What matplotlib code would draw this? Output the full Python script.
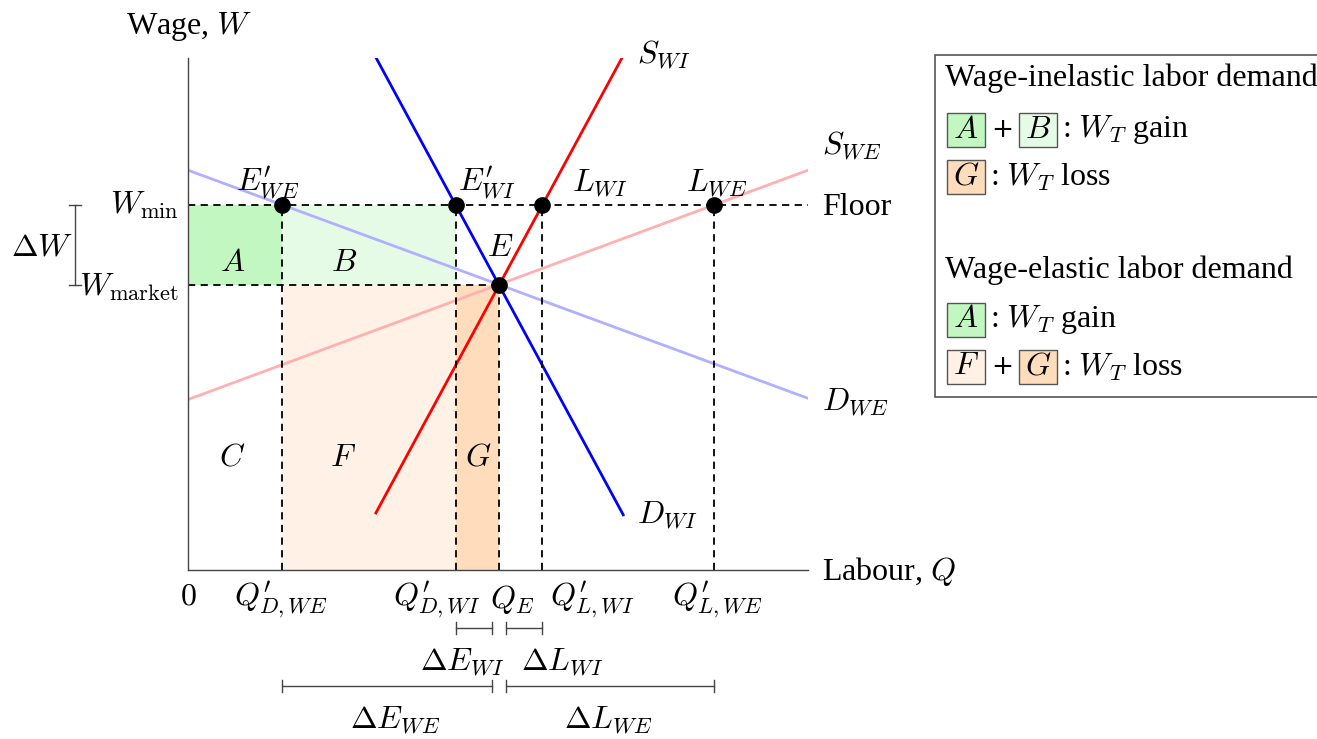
import numpy as np
import matplotlib.pyplot as plt
from matplotlib.patches import Rectangle

plt.rcParams["font.family"] = ["Liberation Serif", "DejaVu Serif"]
plt.rcParams["mathtext.fontset"] = "cm"

# axis extents (Q, W)
q_max = 10.0
w_max = 8.26

# market equilibrium and wage floor
q_e, w_market = 5.02, 4.60
w_min = 5.89

# curve endpoints [(q0, w0), (q1, w1)]
d_wi = [(3.03, 8.27), (7.02, 0.89)]
s_wi = [(3.03, 0.92), (7.02, 8.30)]
d_we = [(0.0, 6.45), (10.0, 2.77)]
s_we = [(0.0, 2.75), (10.0, 6.45)]

fill_colors = {"A": "#c2f7c2", "B": "#e6fbe6", "F": "#fff1e5", "G": "#ffdcbc"}


def q_at(line, w):
    (q0, w0), (q1, w1) = line
    return q0 + (w - w0) * (q1 - q0) / (w1 - w0)


q_d_we = q_at(d_we, w_min)
q_d_wi = q_at(d_wi, w_min)
q_l_wi = q_at(s_wi, w_min)
q_l_we = q_at(s_we, w_min)

W, H = 1317, 739
fig = plt.figure(figsize=(W / 100, H / 100), dpi=100)
ax = fig.add_axes([188 / W, 1 - 570 / H, 620 / W, 512 / H])
ax.set_xlim(0, q_max)
ax.set_ylim(0, w_max)
for s in ["top", "right"]:
    ax.spines[s].set_visible(False)
for s in ["left", "bottom"]:
    ax.spines[s].set_color("#444444")
    ax.spines[s].set_linewidth(1.0)
ax.set_xticks([])
ax.set_yticks([])

FS = 23


def px(x, y):
    # pixel position -> data coords (for labels only)
    return (x - 188) / 62, (570 - y) / 62


def label(x, y, s, ha="center", va="center", size=FS):
    xd, yd = px(x, y)
    ax.text(xd, yd, s, ha=ha, va=va, fontsize=size, clip_on=False)


# shaded welfare areas
ax.fill_between([0, q_d_we], w_market, w_min, color=fill_colors["A"], lw=0)
ax.fill_between([q_d_we, q_d_wi], w_market, w_min, color=fill_colors["B"], lw=0)
ax.fill_between([q_d_we, q_d_wi], 0, w_market, color=fill_colors["F"], lw=0)
ax.fill_between([q_d_wi, q_e], 0, w_market, color=fill_colors["G"], lw=0)

# curves
ax.plot(*zip(*s_we), color="#ffb0b0", lw=2.0)
ax.plot(*zip(*d_we), color="#b0b0ff", lw=2.0)
ax.plot(*zip(*d_wi), color="blue", lw=2.0)
ax.plot(*zip(*s_wi), color="red", lw=2.0)

# dashed guides
dash = dict(color="black", lw=1.3, ls=(0, (4, 3)))
ax.plot([0, q_max], [w_min, w_min], **dash)
ax.plot([0, q_e], [w_market, w_market], **dash)
for q in [q_d_we, q_d_wi, q_l_wi, q_l_we]:
    ax.plot([q, q], [0, w_min], **dash)
ax.plot([q_e, q_e], [0, w_market], **dash)

# points
ax.plot([q_d_we, q_d_wi, q_l_wi, q_l_we, q_e],
        [w_min, w_min, w_min, w_min, w_market],
        "o", color="black", ms=11, zorder=5)

# point labels
label(268, 183, r"$E^{\prime}_{WE}$")
label(487, 183, r"$E^{\prime}_{WI}$")
label(600, 183, r"$L_{WI}$")
label(717, 183, r"$L_{WE}$")
label(500, 248, r"$E$")

# curve labels
label(637, 55, r"$S_{WI}$", ha="left")
label(822, 146, r"$S_{WE}$", ha="left")
label(822, 402, r"$D_{WE}$", ha="left")
label(637, 515, r"$D_{WI}$", ha="left")

# area letters
for x, y, s in [(233, 263, "A"), (344, 263, "B"), (232, 458, "C"),
                (343, 458, "F"), (478, 458, "G")]:
    label(x, y, "$%s$" % s)

# axis labels
label(189, 26, "Wage, $W$")
label(822, 572, "Labour, $Q$", ha="left")
label(822, 207, "Floor", ha="left")
label(179, 205, r"$W_{\mathrm{min}}$", ha="right")
label(179, 287, r"$W_{\mathrm{market}}$", ha="right")

# Q tick labels
label(188, 597, "$0$")
label(281, 600, r"$Q^{\prime}_{D,WE}$")
label(437, 600, r"$Q^{\prime}_{D,WI}$")
label(512, 600, r"$Q_{E}$")
label(592, 600, r"$Q^{\prime}_{L,WI}$")
label(717, 600, r"$Q^{\prime}_{L,WE}$")

# brackets
gap = 7 / 62


def hbracket(q0, q1, y, t=6 / 62):
    ax.plot([q0, q1], [y, y], color="#444444", lw=1.0, clip_on=False)
    for q in (q0, q1):
        ax.plot([q, q], [y - t, y + t], color="#444444", lw=1.0, clip_on=False)


y_small = px(0, 628)[1]
y_large = px(0, 686)[1]
hbracket(q_d_wi, q_e - gap, y_small)
hbracket(q_e + gap, q_l_wi, y_small)
hbracket(q_d_we, q_e - gap, y_large)
hbracket(q_e + gap, q_l_we, y_large)
label(462, 662, r"$\Delta E_{WI}$")
label(562, 662, r"$\Delta L_{WI}$")
label(395, 720, r"$\Delta E_{WE}$")
label(608, 720, r"$\Delta L_{WE}$")

# delta W bracket
xb = px(75, 0)[0]
ax.plot([xb, xb], [w_market, w_min], color="#444444", lw=1.0, clip_on=False)
for w in (w_market, w_min):
    ax.plot([xb - 0.1, xb + 0.1], [w, w], color="#444444", lw=1.0, clip_on=False)
label(42, 248, r"$\Delta W$")

# legend box (figure pixel coords)
def fpx(x, y):
    return x / W, 1 - y / H


lx, ly = fpx(935, 397)
fig.patches.append(Rectangle((lx, ly), (W + 5 - 935) / W, (397 - 55) / H,
                             transform=fig.transFigure, fc="white",
                             ec="#555555", lw=1.2))


def ftext(x, y, s, ha="left", **kw):
    fig.text(*fpx(x, y), s, ha=ha, va="center", fontsize=FS, **kw)


def fbox(x, y, letter):
    bx, by = fpx(x, y + 17)
    fig.patches.append(Rectangle((bx, by), 38 / W, 34 / H,
                                 transform=fig.transFigure,
                                 fc=fill_colors[letter], ec="#555555", lw=1.0))
    ftext(x + 19, y, "$%s$" % letter, ha="center")


def plus(x, y):
    fig.text(*fpx(x, y), "+", ha="center", va="center", fontsize=19,
             family="DejaVu Sans")


ftext(945, 78, "Wage-inelastic labor demand")
fbox(947, 130, "A")
plus(1002, 130)
fbox(1019, 130, "B")
ftext(1062, 130, ": $W_T$ gain")
fbox(947, 177, "G")
ftext(990, 177, ": $W_T$ loss")

ftext(945, 270, "Wage-elastic labor demand")
fbox(947, 320, "A")
ftext(990, 320, ": $W_T$ gain")
fbox(947, 367, "F")
plus(1002, 367)
fbox(1019, 367, "G")
ftext(1062, 367, ": $W_T$ loss")

fig.savefig("out.png", dpi=100)
